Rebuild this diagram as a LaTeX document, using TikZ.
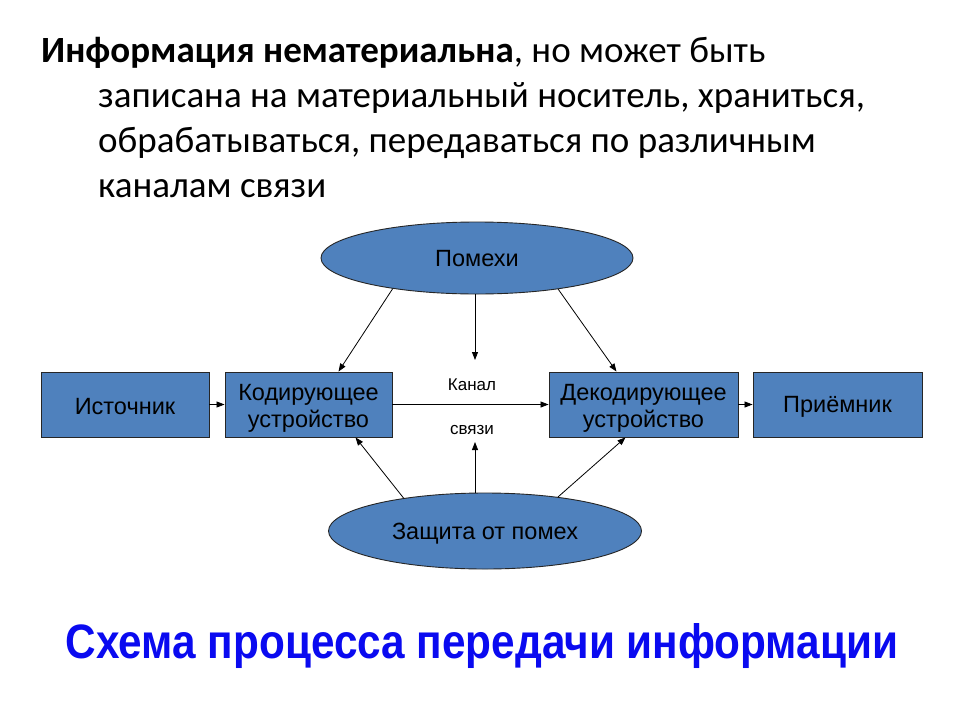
\documentclass[tikz,border=0pt]{standalone}
\usepackage{fontspec}
\setmainfont{Carlito}
\newfontfamily\arialf{Liberation Sans}
\usetikzlibrary{shapes.geometric,arrows.meta}
\definecolor{boxblue}{HTML}{4F81BD}
\definecolor{capblue}{RGB}{10,10,240}
\newcommand{\twolines}[2]{\raisebox{-4.5pt}[\height][\depth]{\begin{tabular}{@{}c@{}}#1\\#2\end{tabular}}}
\newcommand{\lowr}[2]{\raisebox{-#1pt}[\height][\depth]{#2}}
\tikzset{
  blk/.style={draw=black!85, line width=0.9pt, fill=boxblue, rectangle, minimum height=65pt, inner sep=0pt, align=center, font=\arialf\fontsize{23.5}{27}\selectfont},
  oval/.style={draw=black!85, line width=0.9pt, fill=boxblue, ellipse, inner sep=0pt, font=\arialf\fontsize{23.5}{27}\selectfont},
  conn/.style={line width=0.8pt, -{Triangle[length=8pt,width=6pt]}},
  ttl/.style={anchor=base west, inner sep=0pt, font=\fontsize{37}{44}\selectfont},
  small/.style={inner sep=0pt, font=\arialf\fontsize{17}{20}\selectfont}
}
\begin{document}
\begin{tikzpicture}[x=1pt,y=-1pt]
\useasboundingbox (0,0) rectangle (960,720);
\fill[white] (0,0) rectangle (960,720);
% title
\node[ttl] (t1) at (41,62) {\textbf{Информация нематериальна}, но может быть};
\node[ttl] (t2) at (98,107) {записана на материальный носитель, храниться,};
\node[ttl] (t3) at (98,152) {обрабатываться, передаваться по различным};
\node[ttl] (t4) at (98,197) {каналам связи};
% nodes
\node[oval, minimum width=312pt, minimum height=72pt] (pom) at (477,258) {\lowr{1}{Помехи}};
\node[oval, minimum width=313pt, minimum height=76pt] (zash) at (485,531) {\lowr{3}{Защита от помех}};
\node[blk, minimum width=168pt] (src) at (125,404.5) {\lowr{2}{Источник}};
\node[blk, minimum width=167pt] (enc) at (308.5,404.5) {\twolines{Кодирующее}{устройство}};
\node[blk, minimum width=189pt] (dec) at (643.5,404.5) {\twolines{Декодирующее}{устройство}};
\node[blk, minimum width=169pt] (rcv) at (837.5,404.5) {\lowr{2}{Приёмник}};
\node[small] (kan) at (472,385) {Канал};
\node[small] (svz) at (472,430) {связи};
\coordinate (chT) at (475,360);
\coordinate (chB) at (475,442);
% connectors
\draw[conn] (src) -- (enc);
\draw[conn] (enc) -- (dec);
\draw[conn] (dec) -- (rcv);
\draw[conn] (pom.200) -- ([xshift=30pt]enc.north);
\draw[conn] (pom.south -| chT) -- (chT);
\draw[conn] (pom.-21) -- ([xshift=-27pt]dec.north);
\draw[conn] (zash.158) -- ([xshift=47pt]enc.south);
\draw[conn] (zash.north -| chB) -- (chB);
\draw[conn] (zash.25) -- ([xshift=-18pt]dec.south);
% caption
\node[anchor=base, inner sep=0pt, text=capblue] (cap) at (482,658) {\resizebox{832pt}{35pt}{\arialf\bfseries Схема процесса передачи информации}};
\end{tikzpicture}
\end{document}
